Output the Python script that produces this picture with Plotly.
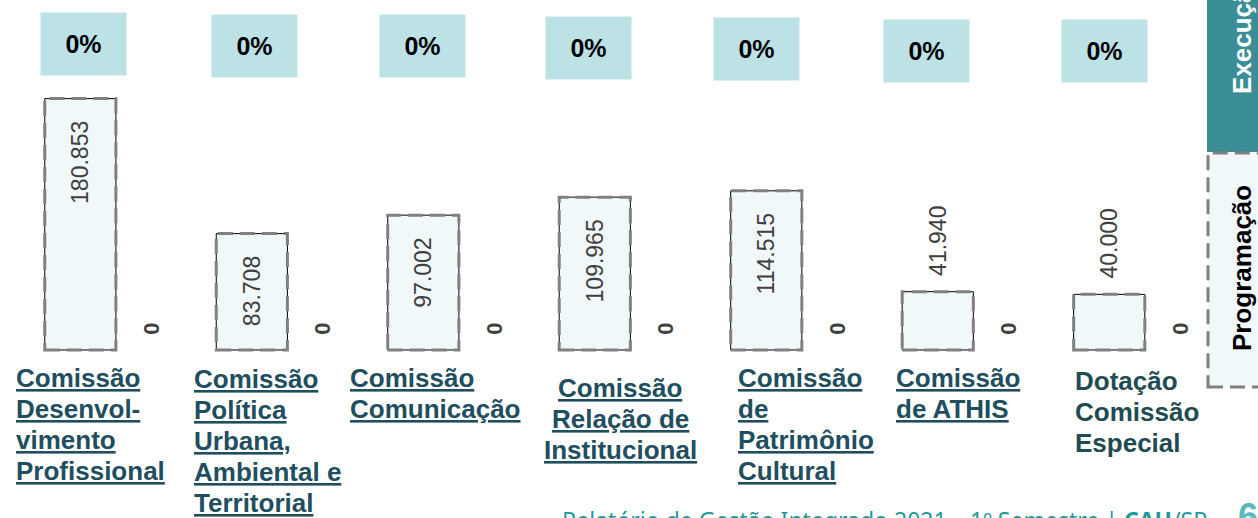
import plotly.graph_objects as go

# data
categories = [
    "Comissão Desenvolvimento Profissional",
    "Comissão Política Urbana, Ambiental e Territorial",
    "Comissão Comunicação",
    "Comissão Relação de Institucional",
    "Comissão de Patrimônio Cultural",
    "Comissão de ATHIS",
    "Dotação Comissão Especial",
]
label_lines = [
    ["Comissão", "Desenvol-", "vimento", "Profissional"],
    ["Comissão", "Política", "Urbana,", "Ambiental e", "Territorial"],
    ["Comissão", "Comunicação"],
    ["Comissão", "Relação de", "Institucional"],
    ["Comissão", "de", "Patrimônio", "Cultural"],
    ["Comissão", "de ATHIS"],
    ["Dotação", "Comissão", "Especial"],
]
programacao = [180853, 83708, 97002, 109965, 114515, 41940, 40000]
execucao = [0, 0, 0, 0, 0, 0, 0]

W, H = 1258, 518
FONT = "Liberation Sans, Arial, sans-serif"
NB = "\u00a0"

# positions (layout only)
label_xshift = [-101, -94, -110, -10, -65, -78, -71]
label_top = [365, 366, 365, 375, 365, 365, 368]
label_anchor = ["left", "left", "left", "center", "left", "left", "left"]
underline = [True, True, True, True, True, True, False]
box_mid = [44, 46, 46, 48, 49, 51, 51]
box_xshift = [-32, -33, -36, -42, -45, -47, -40]

prog_pos = ["inside" if v > 60000 else "outside" for v in programacao]
prog_txt = [
    "%{y:,.0f}" + NB * 3 if p == "inside" else NB * 2 + "%{y:,.0f}" for p in prog_pos
]

fig = go.Figure()
fig.add_trace(go.Bar(
    name="Programação", x=categories, y=programacao,
    marker=dict(color="#F0F8FA", line=dict(color="black", width=1)),
    texttemplate=prog_txt, textposition=prog_pos, textangle=-90,
    insidetextanchor="end", constraintext="none", cliponaxis=False,
    textfont=dict(family=FONT, size=23, color="#404040"),
))
fig.add_trace(go.Bar(
    name="Execução", x=categories, y=execucao,
    marker=dict(color="#3B8E96", line=dict(width=0)),
    texttemplate=NB * 2 + "<b>%{y}</b>", textposition="outside", textangle=-90,
    constraintext="none", cliponaxis=False,
    textfont=dict(family=FONT, size=22, color="#404040"),
))

# dashed outlines around programação bars
bw = (1 - 0.17) / 2
for i, v in enumerate(programacao):
    fig.add_shape(type="rect", xref="x", yref="y", x0=i - bw, x1=i, y0=0, y1=v,
                  line=dict(color="#808080", width=3, dash="15px,7px"), layer="above")

# percentage boxes
for i, (p, e) in enumerate(zip(programacao, execucao)):
    fig.add_annotation(
        x=i, xref="x", xshift=box_xshift[i], xanchor="center",
        y=1 - box_mid[i] / H, yref="paper", yanchor="middle",
        text="<b>%d%%</b>" % round(100 * e / p), showarrow=False,
        width=85, height=62, bgcolor="#BDE2E5", borderpad=0,
        font=dict(family=FONT, size=25, color="black"),
    )

# category labels, one annotation per line
for i, lines in enumerate(label_lines):
    color = "#1F4E5F" if underline[i] else "#1F4B52"
    for k, ln in enumerate(lines):
        txt = "<b><u>%s</u></b>" % ln if underline[i] else "<b>%s</b>" % ln
        fig.add_annotation(
            x=i, xref="x", xshift=label_xshift[i], xanchor=label_anchor[i],
            y=1 - (label_top[i] + 13 + 31 * k) / H, yref="paper", yanchor="middle",
            text=txt, showarrow=False, borderpad=0,
            font=dict(family=FONT, size=26, color=color),
        )

# legend boxes on the right
fig.add_shape(type="rect", xref="paper", yref="paper", x0=1207 / W, x1=1.05,
              y0=1 - 152 / H, y1=1.05, fillcolor="#3B8E96", line=dict(width=0))
fig.add_shape(type="rect", xref="paper", yref="paper", x0=1208 / W, x1=1.05,
              y0=1 - 387 / H, y1=1 - 153 / H, fillcolor="#F0F8FA",
              line=dict(color="#808080", width=3, dash="15px,7px"))
fig.add_annotation(x=1242 / W, y=1 - 34 / H, xref="paper", yref="paper",
                   xanchor="center", yanchor="middle",
                   text="<b>Execução</b>", textangle=-90, showarrow=False,
                   font=dict(family=FONT, size=26, color="white"))
fig.add_annotation(x=1242 / W, y=1 - 268 / H, xref="paper", yref="paper",
                   xanchor="center", yanchor="middle",
                   text="<b>Programação</b>", textangle=-90, showarrow=False,
                   font=dict(family=FONT, size=26, color="black"))

# footer
fig.add_annotation(x=560 / W, y=1 - 502 / H, xref="paper", yref="paper",
                   xanchor="left", yanchor="top", showarrow=False,
                   text="Relatório de Gestão Integrado 2021 – 1º Semestre | <b>CAU</b>/SP",
                   font=dict(family="Noto Sans, sans-serif", size=23, color="#1E9A9A"))
fig.add_annotation(x=1236 / W, y=1 - 494 / H, xref="paper", yref="paper",
                   xanchor="left", yanchor="top", showarrow=False, text="<b>6</b>",
                   font=dict(family=FONT, size=36, color="#5BB8C0"))

fig.update_layout(
    width=W, height=H, margin=dict(l=0, r=0, t=0, b=0),
    barmode="group", bargap=0.17, bargroupgap=0,
    plot_bgcolor="white", paper_bgcolor="white",
    showlegend=False, separators=",.",
    xaxis=dict(visible=False, range=[-0.676, 6.66]),
    yaxis=dict(visible=False, zeroline=False, range=[-120900, 251800]),
)

fig.write_html("out.html", config={"displayModeBar": False},
               post_script="document.body.style.margin='0px';")
